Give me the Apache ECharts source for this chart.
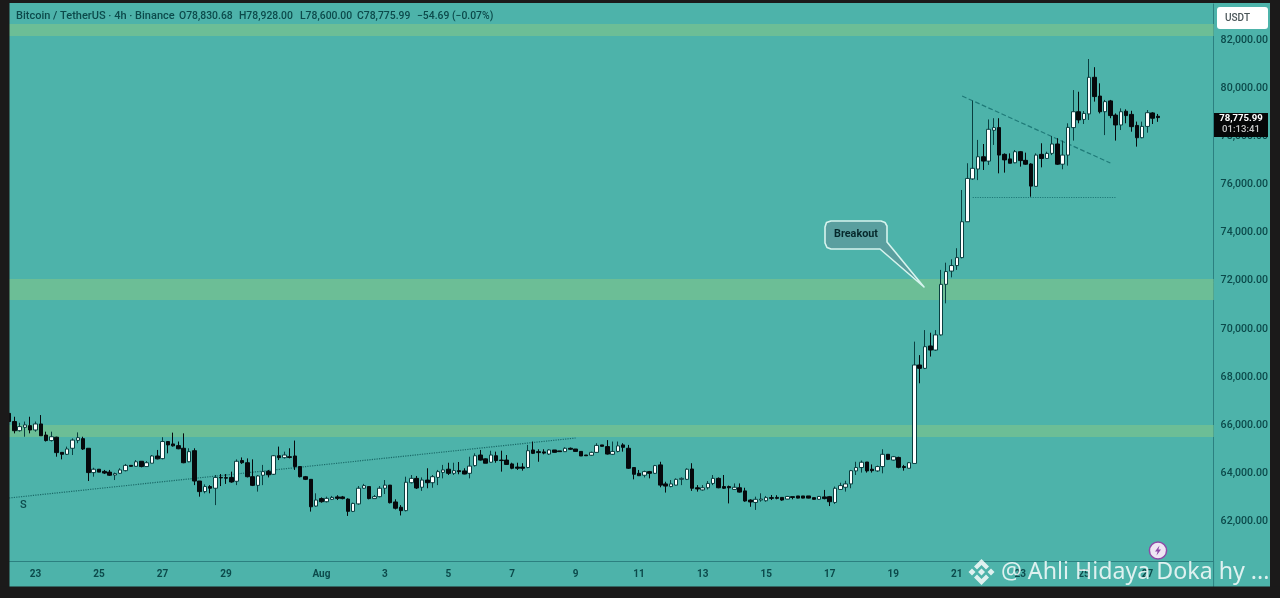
<!DOCTYPE html>
<html><head><meta charset="utf-8">
<style>html,body{margin:0;padding:0;background:#1b1a1a}#c{width:1280px;height:598px}</style>
<script src="https://cdn.jsdelivr.net/npm/echarts@6/dist/echarts.min.js"></script>
</head><body><div id="c"></div>
<script>
const opens = [
66490,66150,65770,65910,65980,65800,66050,65590,65360,65500,
64870,64790,65040,65370,65440,65040,64030,64170,64080,64050,
63930,64000,64110,64330,64290,64500,64280,64420,64720,64610,
65320,65220,65150,65040,64480,64940,63680,63240,63450,63380,
63830,63820,63830,63670,64530,64440,63860,63500,63920,64080,
63960,64730,64650,64690,64720,64280,63860,63750,62640,62950,
62820,62920,63020,63020,62930,62420,62730,63380,63450,62950,
63030,63380,63510,62810,62590,62450,63610,63790,63420,63720,
63610,63830,64040,64170,64000,64110,64100,64000,64320,64760,
64600,64460,64730,64550,64550,64390,64260,64260,64240,64970,
64900,64890,64800,64970,64930,64900,65040,65010,64910,64760,
64750,64870,65180,65110,64790,64910,65180,65040,64240,64000,
63920,64070,64000,64350,63560,63450,63510,63750,63750,64180,
63400,63310,63400,63580,63790,63450,63450,63330,63400,63270,
62890,62790,62890,62860,62990,63000,63000,62930,63030,63060,
63060,63060,62990,62920,63020,63030,62790,63330,63420,63560,
64100,64240,64470,64170,64100,64280,64790,64550,64660,64280,
64210,64410,68500,68360,69290,69120,69750,71850,72400,72630,
72960,74450,76230,76640,77150,76970,78250,78360,77250,77060,
76900,77360,77000,76850,75920,77250,77080,77290,77680,76840,
77220,78360,79020,78700,78930,80450,79670,79020,79470,78880,
78470,79040,78910,78450,77940,78410,78970,78830.68];
const closes = [
66150,65770,65940,66010,65800,66050,65560,65360,65520,64860,
64790,65010,65380,65480,65010,64030,64170,64050,64010,63920,
63990,64140,64330,64290,64480,64280,64440,64720,64600,65320,
65180,65140,65020,64440,64900,63680,63240,63450,63380,63830,
63810,63800,63640,64500,64440,63860,63500,63890,64070,63940,
64730,64650,64760,64660,64280,63860,63750,62610,62890,62820,
62960,63000,62960,62950,62420,62750,63380,63490,62950,63030,
63380,63510,62780,62550,62450,63630,63790,63390,63720,63610,
63860,64070,64140,64000,64110,64070,63970,64300,64730,64550,
64420,64760,64530,64530,64370,64210,64210,64210,64940,64830,
64860,64840,64970,64870,64900,65040,65000,64910,64720,64730,
64870,65160,65120,64800,64910,65140,65080,64210,63960,63900,
64070,64000,64320,63510,63470,63560,63750,63790,64170,63380,
63350,63400,63580,63790,63400,63380,63400,63420,63220,62850,
62810,62920,62930,62990,62960,62960,62890,63040,63000,62970,
62970,62970,62920,63040,62950,62820,63380,63490,63560,64110,
64240,64460,64100,64110,64280,64790,64580,64690,64250,64240,
64440,68500,68360,69260,69120,69750,71850,72380,72630,72960,
74450,76250,76670,77150,76970,78290,78360,77220,77020,76880,
77360,76990,76840,75930,77220,77080,77290,77680,76840,77220,
78370,79020,78680,78950,80450,79650,79020,79440,78860,78470,
79020,78860,78400,77940,78410,78980,78750,78775.99];
const lows = [
66150,65660,65730,65520,65660,65730,65560,65320,65320,64690,
64580,64760,64760,65250,64970,63680,63860,64050,63970,63890,
63720,63970,64080,64280,64280,64250,64280,64420,64580,64580,
64830,65110,65000,64420,64460,63510,63030,63170,63170,62680,
63470,63560,63610,63510,64390,63830,63470,63240,63510,63830,
63930,64550,64610,64620,64140,63830,63720,62410,62610,62780,
62790,62890,62890,62920,62230,62390,62700,63360,62920,62950,
63000,63140,62750,62500,62250,62420,63580,63350,63270,63380,
63400,63510,63790,63930,63930,63960,63960,63790,64280,64530,
64420,64440,64440,64070,64350,64170,64140,64110,64210,64800,
64480,64790,64760,64860,64900,64900,64970,64900,64720,64730,
64730,64860,65110,64780,64760,64870,64900,64180,63750,63890,
63830,63790,63970,63420,63200,63420,63500,63510,63720,63270,
63240,63280,63330,63510,63380,63350,62750,63310,63200,62820,
62610,62480,62820,62820,62890,62920,62860,62920,62920,62960,
62960,62960,62910,62910,62920,62640,62730,63310,63240,63380,
63930,64030,64030,64030,64060,64000,64550,64530,64210,64110,
64210,64410,67740,68330,68850,69090,69720,71060,72140,72450,
72930,74450,76190,76180,76600,76810,77640,76460,76490,76880,
76880,76740,76810,75490,75910,76710,77060,77220,76810,76630,
76780,77820,78540,78510,78680,79440,78950,78050,78750,77820,
78260,78540,78190,77570,77920,78150,78510,78600];
const highs = [
66560,66350,66100,66150,66350,66150,66420,65730,65730,65520,
64870,65110,65450,65700,65520,65040,64230,64170,64140,64140,
64030,64210,64390,64330,64550,64500,64510,64760,64970,65500,
65320,65690,65320,65660,65040,65040,63680,63540,63510,63930,
63970,63970,64070,64580,64660,64620,64580,63930,64350,64140,
64760,65110,64900,65040,65360,64300,63890,63750,63170,63000,
63030,63060,63090,63060,62960,62780,63470,63560,63450,63100,
63470,63720,63510,62920,62680,63860,63930,63890,63830,64210,
63930,64140,64350,64440,64440,64470,64210,64690,64830,64970,
64620,64940,64900,64940,64760,64440,64440,64420,65180,65320,
65000,65000,65000,64970,64930,65080,65070,65010,64910,64760,
64900,65250,65180,65380,65320,65320,65250,65180,64240,64140,
64110,64100,64350,64480,63650,63720,63790,63830,64210,64420,
63510,63510,63680,63930,63830,63930,63490,63580,63580,63400,
62920,63030,63170,63060,63100,63090,63000,63060,63030,63060,
63060,63060,62990,63060,63310,63060,63450,63610,63690,64140,
64480,64530,64470,64370,64320,65000,64800,64720,64690,64350,
64470,69470,68910,69950,69840,69950,72450,72750,72890,73350,
75770,76880,79480,77850,77680,78700,78750,78750,77290,77290,
77430,77390,77320,76880,77290,77710,77360,78010,77920,77820,
78540,79920,79850,79050,81210,80870,80200,79510,79510,78950,
79160,79120,79060,78610,78610,79090,79000,78928];

const slotCount = 228;
const tickSlots  = [5,17,29,41,59,71,83,95,107,119,131,143,155,167,179,191,203,215];
const tickLabels = ['23','25','27','29','Aug','3','5','7','9','11','13','15','17','19','21','23','25','27'];
const priceTicks = [62000,64000,66000,68000,70000,72000,74000,76000,78000,80000,82000];
const zones = [[82665,82166],[72072,71200],[66007,65508]];
const titleParts = [
  ['Bitcoin / TetherUS · 4h · Binance',16,11],['O78,830.68',179,10.4],['H78,928.00',239,10.4],
  ['L78,600.00',300,10.4],['C78,775.99',357,10.4],['−54.69 (−0.07%)',417,10.4]];

const categories = Array.from({length:slotCount},(_,i)=>{
  const k = tickSlots.indexOf(i); return k>=0 ? tickLabels[k] : '';
});
const candles = opens.map((o,i)=>[o,closes[i],lows[i],highs[i]]);
const ink = '#0c4a4b', teal = '#4db3aa', band = '#6cbe96', frame = '#1b1a1a';
const font = 'Roboto, "Noto Sans", sans-serif';

const chart = echarts.init(document.getElementById('c'),null,{renderer:'canvas'});
const text = (style,extra)=>Object.assign({type:'text',z:60,silent:true,style},extra||{});
const rect = (x,y,w,h,fill,z)=>({type:'rect',z:z||100,silent:true,shape:{x,y,width:w,height:h},style:{fill}});
const chev = pts=>({type:'polygon',z:120,silent:true,shape:{points:pts},style:{fill:'rgba(255,255,255,0.82)'}});

chart.setOption({
  animation:false,
  backgroundColor:teal,
  grid:{left:6.35,width:1207.26,top:4,height:557.5,containLabel:false},
  xAxis:{type:'category',data:categories,boundaryGap:true,
    axisLine:{show:true,lineStyle:{color:'#2c8080',width:1}},axisTick:{show:false},splitLine:{show:false},
    axisLabel:{interval:0,margin:8,fontFamily:font,fontSize:10,fontWeight:700,color:ink,
      hideOverlap:false,formatter:v=>v}},
  yAxis:{type:'value',position:'right',min:60337,max:83495,scale:true,
    axisLine:{show:true,lineStyle:{color:'#2c8080',width:1}},axisTick:{show:false},splitLine:{show:false},
    axisLabel:{customValues:priceTicks,inside:false,margin:7,padding:[3,0,0,0],fontFamily:font,fontSize:10.6,fontWeight:500,color:ink,
      formatter:v=>v.toLocaleString('en-US',{minimumFractionDigits:2})}},
  series:[
    {type:'line',data:[],z:1,silent:true,
      markArea:{silent:true,itemStyle:{color:band},data:zones.map(z=>[{yAxis:z[0]},{yAxis:z[1]}])}},
    {type:'candlestick',z:5,data:candles,barWidth:4,silent:true,
      itemStyle:{color:'#ffffff',color0:'#06090c',borderColor:'#0a3f40',borderColor0:'#06090c',borderColorDoji:'#06090c',borderWidth:1},
      markLine:{silent:true,symbol:'none',label:{show:false},animation:false,
        data:[
          [{coord:[0,62975],lineStyle:{type:'dotted',color:'#1a6a68',width:1.2}},{coord:[107,65467]}],
          [{coord:[180,79674],lineStyle:{type:'dashed',color:'#1f7a78',width:1.2}},{coord:[208,76890]}],
          [{coord:[182,75478],lineStyle:{type:'dotted',color:'#1f7a78',width:1.2}},{coord:[209,75478]}]
        ]}}
  ],
  graphic:[
    rect(0,0,1280,3,frame),rect(0,0,9.5,598,frame),rect(1270,0,10,598,frame),rect(0,586.5,1280,12,frame),
    {type:'line',z:50,silent:true,shape:{x1:1213.6,y1:561,x2:1213.6,y2:587},style:{stroke:'#2c8080',lineWidth:1}},
    ...titleParts.map(p=>text({text:p[0],x:p[1],y:16.5,verticalAlign:'middle',fill:ink,font:'500 '+p[2]+'px '+font})),
    text({text:'S',x:20,y:505,verticalAlign:'middle',fill:ink,font:'500 11px '+font}),
    {type:'polygon',z:60,silent:true,shape:{points:[[831,221],[881,221],[885,222.5],[887,226],[887,242],[924,287],[880,249],[831,249],[827,247.5],[825,243],[825,227],[826.5,222.5]]},
      style:{fill:'#5a9f9f',stroke:'#d6f4ee',lineWidth:1.6,lineJoin:'round'}},
    text({text:'Breakout',x:856,y:234,align:'center',verticalAlign:'middle',fill:'#06282b',font:'700 10.8px '+font},{z:61}),
    {type:'rect',z:70,silent:true,shape:{x:1217,y:7,width:51,height:22,r:3},style:{fill:'#ffffff'}},
    text({text:'USDT',x:1225,y:18,verticalAlign:'middle',fill:'#4a5558',font:'500 10px '+font},{z:71}),
    rect(1214,113,54,24,'#060708',70),
    text({text:'78,775.99',x:1241,y:119,align:'center',verticalAlign:'middle',fill:'#ffffff',font:'700 9.6px '+font},{z:71}),
    text({text:'01:13:41',x:1241,y:130,align:'center',verticalAlign:'middle',fill:'#c8c8c8',font:'500 9.6px '+font},{z:71}),
    {type:'circle',z:70,silent:true,shape:{cx:1158,cy:550.5,r:8.6},style:{fill:'#efe6f4',stroke:'#8d4aa8',lineWidth:1.5}},
    {type:'polygon',z:71,silent:true,shape:{points:[[1159.5,545.5],[1155,551.5],[1157.6,551.5],[1156.5,555.5],[1161,549.5],[1158.4,549.5]]},style:{fill:'#8d4aa8'}},
    chev([[981.5,559],[989,566.5],[986,569.5],[981.5,565],[977,569.5],[974,566.5]]),
    chev([[981.5,585],[989,577.5],[986,574.5],[981.5,579],[977,574.5],[974,577.5]]),
    chev([[972,568.5],[975.5,572],[972,575.5],[968.5,572]]),
    chev([[991,568.5],[994.5,572],[991,575.5],[987.5,572]]),
    chev([[981.5,568.5],[985,572],[981.5,575.5],[978,572]]),
    text({text:'@ Ahli Hidaya Doka hy ...',x:1001,y:572,verticalAlign:'middle',fill:'rgba(255,255,255,0.82)',font:'400 23.2px "Noto Sans", sans-serif',
      shadowBlur:2,shadowColor:'rgba(0,0,0,0.25)'},{z:120})
  ]
});
</script></body></html>
